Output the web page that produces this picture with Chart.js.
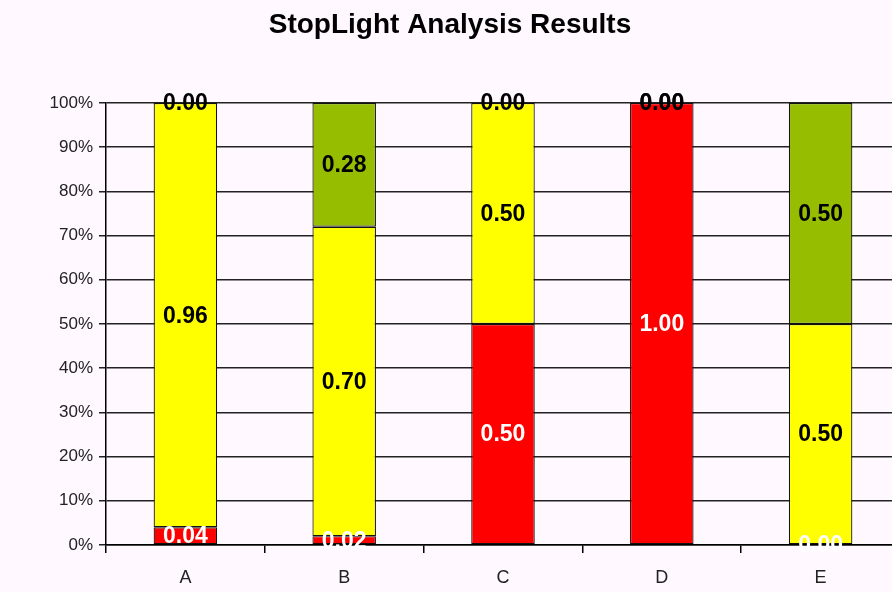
<!DOCTYPE html>
<html>
<head>
<meta charset="utf-8">
<script src="https://cdn.jsdelivr.net/npm/chart.js@4/dist/chart.umd.min.js"></script>
<style>
html,body{margin:0;padding:0;overflow:hidden;background:#FFF8FE;}
#wrap{width:900px;height:592px;position:relative;}
</style>
</head>
<body>
<div id="wrap"><canvas id="c" width="900" height="592"></canvas></div>
<script>
const categories = ['A', 'B', 'C', 'D', 'E'];
const redValues = [0.04, 0.02, 0.50, 1.00, 0.00];
const yellowValues = [0.96, 0.70, 0.50, 0.00, 0.50];
const greenValues = [0.00, 0.28, 0.00, 0.00, 0.50];
const seriesNames = ['Red', 'Yellow', 'Green'];
const titleText = 'StopLight Analysis Results';

const labelPlugin = {
  id: 'segLabels',
  afterDatasetsDraw(chart) {
    const ctx = chart.ctx;
    ctx.save();
    ctx.font = 'bold 23px "Liberation Sans", Arial, sans-serif';
    ctx.textAlign = 'center';
    ctx.textBaseline = 'middle';
    chart.data.datasets.forEach((ds, di) => {
      const meta = chart.getDatasetMeta(di);
      meta.data.forEach((bar, i) => {
        const v = ds.data[i];
        const y = (bar.y + bar.base) / 2;
        ctx.fillStyle = ds.labelColor;
        ctx.fillText(v.toFixed(2), bar.x, y + 1);
      });
    });
    ctx.restore();
  }
};

new Chart(document.getElementById('c'), {
  type: 'bar',
  data: {
    labels: categories,
    datasets: [
      {label: seriesNames[0], data: redValues, backgroundColor: '#FF0000', labelColor: '#FFFFFF'},
      {label: seriesNames[1], data: yellowValues, backgroundColor: '#FFFF00', labelColor: '#000000'},
      {label: seriesNames[2], data: greenValues, backgroundColor: '#97BD00', labelColor: '#000000'}
    ]
  },
  options: {
    responsive: false,
    animation: false,
    layout: {padding: {left: 0, right: 0, top: 0, bottom: 0}},
    datasets: {bar: {categoryPercentage: 1, barPercentage: 0.4, borderColor: '#111', borderWidth: 1.2, borderSkipped: false}},
    plugins: {
      legend: {display: false},
      tooltip: {enabled: false},
      title: {
        display: true,
        text: titleText,
        color: '#000',
        font: {family: '"Liberation Sans", Arial, sans-serif', size: 28, weight: 'bold', lineHeight: 1.2},
        padding: {top: 8, bottom: 61.4}
      }
    },
    scales: {
      x: {
        stacked: true,
        offset: true,
        grid: {display: true, offset: true, drawOnChartArea: false, drawTicks: true, tickLength: 8, color: '#000', lineWidth: 1.5},
        border: {display: true, color: '#000', width: 1.5},
        ticks: {color: '#222', padding: 14, font: {family: '"Liberation Sans", Arial, sans-serif', size: 18}},
        afterFit(scale) { scale.height = 47; }
      },
      y: {
        stacked: true,
        min: 0,
        max: 1,
        grid: {color: '#222', lineWidth: 1.5, drawTicks: true, tickLength: 7},
        border: {display: true, color: '#000', width: 1.5},
        ticks: {
          stepSize: 0.1,
          color: '#222',
          padding: 6,
          font: {family: '"Liberation Sans", Arial, sans-serif', size: 17},
          callback: v => Math.round(v * 100) + '%'
        },
        afterFit(scale) { scale.width = 106; }
      }
    }
  },
  plugins: [labelPlugin]
});
</script>
</body>
</html>
